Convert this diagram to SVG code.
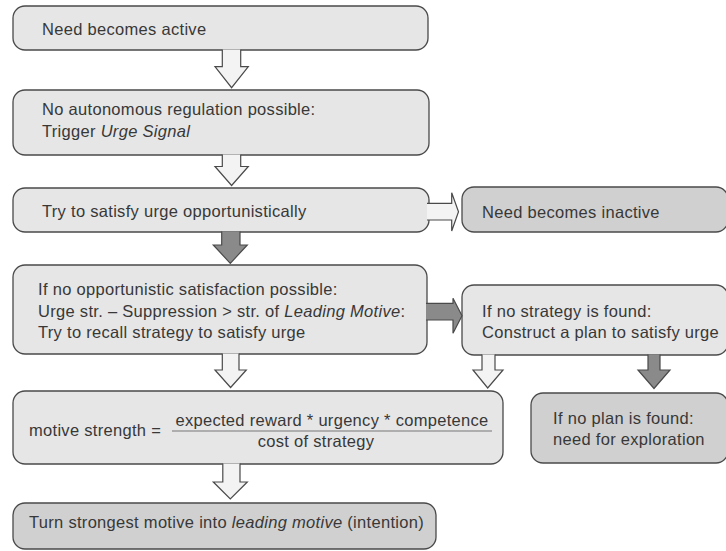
<svg xmlns="http://www.w3.org/2000/svg" width="726" height="551" viewBox="0 0 726 551">
<style>
.box{stroke:#4a4a4a;stroke-width:1.3}
.light{fill:#e6e6e6}
.dark{fill:#d0d0d0}
.arr{stroke:#4a4a4a;stroke-width:1.2;stroke-linejoin:miter}
.wa{fill:#f3f3f3}
.da{fill:#8a8a8a}
text{font-family:"Liberation Sans",Arial,sans-serif;font-size:16.5px;fill:#383838;letter-spacing:0.3px}
.it{font-style:italic}
</style>
<rect width="726" height="551" fill="#ffffff"/>
<g id="n1">
<rect class="box light" x="13" y="6" width="415" height="44" rx="12"/>
<text x="42" y="35">Need becomes active</text>
</g>
<g id="n2">
<rect class="box light" x="13" y="90" width="416" height="65" rx="12"/>
<text x="42" y="115">No autonomous regulation possible:</text>
<text x="42" y="137">Trigger <tspan class="it">Urge Signal</tspan></text>
</g>
<g id="n3">
<rect class="box light" x="13" y="188" width="416" height="44" rx="12"/>
<text x="42" y="217">Try to satisfy urge opportunistically</text>
</g>
<g id="n4">
<rect class="box dark" x="462" y="187" width="266" height="45" rx="12"/>
<text x="482" y="218">Need becomes inactive</text>
</g>
<g id="n5">
<rect class="box light" x="13" y="265" width="414" height="89" rx="12"/>
<text x="38" y="295">If no opportunistic satisfaction possible:</text>
<text x="38" y="316.5">Urge str. – Suppression &gt; str. of <tspan class="it">Leading Motive</tspan>:</text>
<text x="38" y="338">Try to recall strategy to satisfy urge</text>
</g>
<g id="n6">
<rect class="box light" x="462" y="285" width="266" height="70" rx="12"/>
<text x="482" y="317">If no strategy is found:</text>
<text x="482" y="338">Construct a plan to satisfy urge</text>
</g>
<g id="n7">
<rect class="box light" x="13" y="391" width="490" height="73" rx="12"/>
<text x="29" y="435.5">motive strength =</text>
<text x="332" y="426" text-anchor="middle">expected reward * urgency * competence</text>
<line x1="172" y1="431" x2="492" y2="431" stroke="#777" stroke-width="1"/>
<text x="316" y="447" text-anchor="middle">cost of strategy</text>
</g>
<g id="n8">
<rect class="box dark" x="531" y="393" width="197" height="70" rx="12"/>
<text x="553" y="424">If no plan is found:</text>
<text x="553" y="445">need for exploration</text>
</g>
<g id="n9">
<rect class="box dark" x="13" y="503" width="423" height="46" rx="12"/>
<text x="29" y="528">Turn strongest motive into <tspan class="it">leading motive</tspan> (intention)</text>
</g>
<g id="connectors">
<path class="arr wa" d="M222.3,49.4 V66.7 H215 L231.6,87.7 L248.3,66.7 H240.7 V49.4"/>
<path class="arr wa" d="M222.3,154.4 V166.5 H215 L231.6,185.5 L248.3,166.5 H240.7 V154.4"/>
<path class="arr da" d="M221.7,231.4 V245 H213.3 L230.3,263.3 L247.3,245 H240 V231.4"/>
<path class="arr wa" d="M222.3,353.4 V370 H215 L230.6,387.5 L246.3,370 H239 V353.4"/>
<path class="arr wa" d="M222.8,463.4 V482 H213.3 L230.3,499 L247.3,482 H240 V463.4"/>
<path class="arr wa" d="M427,203.3 H451.7 V192.7 L458.5,211.7 L451.7,231 V220 H427"/>
<path class="arr da" d="M426,303.3 H453 V298.3 L462,315.7 L453,333.3 V320 H426"/>
<path class="arr wa" d="M482,354.4 V370 H473 L487.7,388 L503,370 H495 V354.4"/>
<path class="arr da" d="M648,354.4 V370 H638 L654,388.5 L670,370 H660 V354.4"/>
</g>
</svg>
